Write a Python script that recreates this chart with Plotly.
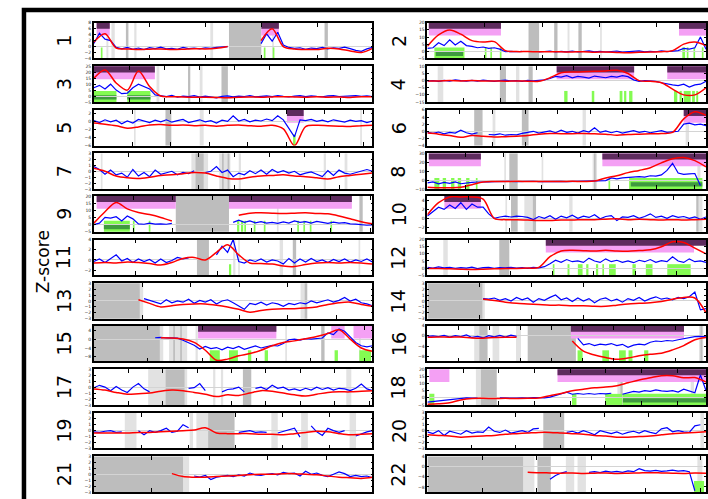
import plotly.graph_objects as go

# ---------------- data (x in percent of each chromosome panel) ----------------
chrom_len = [249, 243, 198, 191, 181, 171, 159, 146, 141, 136, 135, 134,
             115, 107, 103, 90, 81, 78, 59, 63, 48, 51]
x_tick_step = [50, 50, 25, 25, 25, 20, 20, 20, 20, 20, 20, 20,
               20, 20, 20, 10, 10, 10, 10, 10, 10, 10]
y_lims = [(-4, 8), (-5, 20), (-5, 25), (-15, 10), (-6, 3), (-4, 6), (-3, 3), (-10, 30),
          (-5, 20), (-3, 5), (-3, 4), (-5, 20), (-3, 3), (-3, 3), (-10, 6), (-10, 4),
          (-3, 3), (-5, 20), (-3, 3), (-3, 3), (-3, 3), (-10, 4)]
y_steps = [2, 5, 5, 5, 2, 2, 1, 10, 5, 2, 2, 5, 1, 1, 4, 4, 1, 5, 1, 1, 1, 4]

N = None
blue_1 = [1.0, 4.5, 2.5, 2.0, -0.3, -0.8, -0.3, -0.9, -0.5, -1.0, -0.4, -0.7, -0.2, -0.8, -0.6, -0.9, -0.3,
          -0.7, -0.5, -0.8, -0.4, -0.6, -0.3, -0.2, 0.0, N, N, N, N, N, 1.0, 4.3, 1.8, 4.8, 0.5, -0.3,
          -0.6, -0.4, -0.9, -0.5, -0.7, -0.3, -0.8, -0.4, -0.6, -0.2, -0.7, -1.3, -1.6, -0.8, -0.3]
red_1 = [1.5, 4.3, -0.5, -0.8, -1.0, -0.9, -0.8, -1.0, -0.9, -0.7, -0.8, -0.6, 0.0, N, N, 2.0, 6.0, 0.0,
         -0.8, -1.0, -1.0, -0.6, -0.8, -1.5, -2.0, -0.6]
blue_2 = [2, 2.5, 6, 4, 8, 4.5, 7, 4, 3.5, 2.5, 3, 2, 2.5, 1.5, -0.3, 0, -0.3, 0, N, N,
          -0.5, -0.2, 0.2, -0.5, 0, -0.4, 0.2, -0.5, -0.2, 0.3, -0.4, 0, -0.5, -0.2, 0.2, -0.6, -0.3,
          -0.5, 0.3, -0.4, 0, -0.3, 0.3, -0.2, 0.4, 0.5, 2, 1.5, 2.5, 10, 1.5]
red_2 = [3.5, 11.5, 15, 12, 7.5, 6.5, 6.8, 0.5, -0.2, -0.2, -0.4, -0.3, -0.4, -0.5, -0.3, -0.6, -0.5,
         -0.8, -1.0, -0.7, -0.5, -0.3, 0.5, 5.0, 6.5, 4.0]
blue_3 = [7, 9, 6, 10, 5, 2, 2.5, 7, 10, 8, 6, 1, 0,
          -0.5, 0.5, -1, 0, -0.5, 0.3, -0.8, 0, -0.5, -1.5, -0.3, 0.2, -0.6, 0, -0.4, 0.3, -0.7, -0.2, 0.2,
          -0.5, 0.4, -0.3, -0.8, 0, 0.3, -0.5, 0.2, -0.3, -0.6, 0.1, 0.3, -0.4, 0, -0.2, 0.4, -0.3, 0.1, -0.5]
red_3 = [15, 22, 11, 5, 21, 8, 0, -0.5, -0.8, -1, -1, -1.2, -1.5, -1, -0.8, -1, -0.7, -0.5, -0.8, -1.0,
         -0.6, -1, -0.8, -1.2, -0.6, -0.5]
blue_4 = [-0.3, 0, -0.5, 0.2, -0.3, 0.5, 0, -0.4, 0.2, -0.3, 0.3, 0, -0.5, 0, 0.3, -0.2, 0, -0.5, 0.2, -0.2, 0,
          0.5, 1.5, 3.0, 2.5, 3.5, 2.0, 3.0, 2.5, 1.8, 3.2, 2.5, 2, 3, 2.5, 3.5, 2.8, 0.5, -0.5, 0, -0.3,
          -0.5, -1.5, -2.5, -3.0, -3.5, -2.5, -4.5, -3, -2.5, -0.5]
red_4 = [-0.3, -0.3, 0, -0.2, 0, -0.3, -0.2, -0.4, -0.3, -0.4, -0.5, 2, 5.5, 6, 6.2, 6.5, 6.8, 7.2, 5, 0,
         -0.5, -1.5, -6, -10, -10, -5]
blue_5 = [0.3, -0.2, 0.5, 0.0, 0.4, -0.5, 0.2, -0.3, 0.6, 0.1, -0.2, 0.4, 0.0, 0.5, -0.1, 0.3, 0.6, -0.2,
          0.2, 0.5, 0.0, 0.3, -0.3, 0.4, 0.1, 1.5, 0.2, 0.6, 0.0, 0.4, 0.2, 0.7, 0.3, 1.5, 0.5,
          -1.5, -3.8, 0.5, 0.3, 0.6, 0.1, 0.4, 0.0, 0.5, 0.2, -0.1, 0.4, 0.1, 0.3, -0.2, 0.2]
red_5 = [-0.3, -0.6, -1.0, -1.6, -1.3, -0.8, -0.7, -0.9, -0.8, -1.0, -0.9, -1.1, -0.9, -0.8, -1.0, -1.1,
         -0.9, -1.8, -6.0, -1.2, -0.9, -1.0, -1.1, -1.2, -1.0, -0.9]
blue_6 = [-0.3, -0.6, -0.2, -0.7, -0.3, -0.5, 0.3, -0.4, -0.8, -0.4, N, -0.9, -1.0, -0.7, -1.1, -0.9, -1.0,
          -0.6, -0.3, 0.0, -0.5, -0.2, 0.1, -0.4, 0.3, -0.3, 0.0, -0.5, 0.2, -0.2, 1.0, -0.3, 0.1, -0.4,
          0.0, -0.5, -0.1, 0.2, -0.3, 0.0, -0.4, -0.1, 0.2, -0.3, -0.2, 0.0, 2.0, 2.3, 1.8, 2.0, 1.6]
red_6 = [-0.5, -0.8, -1.2, -1.7, -1.2, -1.4, -1.6, -1.5, -1.4, -1.2, -0.8, -0.6, -0.7, -0.7, -0.6, -0.7,
         -0.8, -1.1, -0.9, -0.8, -0.7, -0.6, -0.3, 3.5, 5.5, 4.5]
blue_7 = [0.8, 0.3, -0.5, 0.2, -0.6, -0.3, -1.0, 0.3, -0.8, -0.2, -0.9, 0.2, -0.5, -0.3, 0, -0.6, -0.2,
          -0.4, 0.1, N, -0.2, 0.0, 0.8, -0.2, 0.2, -0.9, -0.3, -0.6, 0.1, -0.4, 0.2, -0.5, 0.3, -0.2,
          0.1, -0.3, 0, -0.6, -0.3, -0.1, -0.5, -0.9, 0.1, -0.7, 0.2, -0.3, -0.5, -0.2, 0, 0.3, 0]
red_7 = [0.5, 0, -0.8, -1.1, -1.2, -1.0, -0.7, -0.6, -0.4, -0.2, -0.3, -0.8, -1.2, -1.3, -1.0, -0.8,
         -0.7, -0.6, -0.8, -0.9, -1.1, -1.3, -0.9, -0.7, -0.5, -0.3]
blue_8 = [-3, -2, -4, -2.5, -3.5, -2, -4, -3, -2.5, -2, -1.5, -1.8, -1.5, -1.2, -1.6, -1.4, -1.7, -1.3,
          -1.5, -1.2, -1.6, -1.4, -1.2, -1.5, -1.3, -1.6, -1.4, -1.0, -1.3, -0.8, -1.0,
          0, -0.5, 2.5, 1.5, 2.5, 3, 3.5, 4, 3.5, 5, 4.5, 6, 11, 19, 8, 6.5, 7, 7.5, -6, N]
red_8 = [-8, -8.5, -8.5, -8, -5, -2, -1.5, -1.5, -1.3, -1.5, -1.4, -1.5, -1.5, -1.3, -1.4, -1.0, 2.5, 5,
         8.5, 11, 14, 19.5, 24, 25.5, 22, 15]
blue_9 = [0, 1, 5, 4.5, 5.5, 2.5, 6, 4, 0.5, 0.2, 1, 0.3, 0.5, 0.2, 0.8, N, N, N, N, N, N, N, N, N, N,
          1.5, 3, 1.5, 2.5, 1.2, 2, 1, 1.5, 0.8, 1.8, 1, 2.5, 1.5, 2, 1, 2.2, 1.5, 0.8, 1.7, 1, 1.3,
          0.5, 0.3, 0, -0.5, -0.2]
red_9 = [1, 9, 15.5, 11, 8.5, 7, 5, 2.5, N, N, N, N, N, 6.5, 8, 8.3, 8, 7.8, 8, 8.2, 7.8, 7.5, 6, 4, 2, 0.5]
blue_10 = [0.5, 1.5, 2.5, 2.0, 3.0, 2.2, 3.5, 2.0, 3.2, 2.5, 2.5, 1.0, 0.0, 0.3, 0.5, 0.3, 0.5, 0.4, 0.2,
           -0.3, 0.4, 0.0, 0.6, -0.2, 0.5, 0.1, 0.7, 0.0, 0.5, 0.2, 0.8, -0.1, 0.4, 0.6, -0.5, 0.3, 0.2,
           0.6, 0.0, 0.4, 1.0, 0.2, 0.5, 0.0, 0.6, 0.2, 0.4, 0.0, 0.3, -0.2, 0.3]
red_10 = [0.8, 3.5, 4.8, 4.8, 4.8, 4.3, 0.0, -0.3, -0.3, -0.4, -0.5, -0.5, -0.4, -0.4, -0.3, -0.3, -0.2,
          -0.1, -0.3, -0.2, -0.3, -0.4, -0.3, -0.4, -0.3, -0.2]
blue_11 = [-0.3, 0.2, -0.5, 0.3, 1.0, -0.2, 0.3, -0.5, 0.2, -0.3, 0.1, -0.6, 0.2, -0.5, -0.1, 0.5, 0.2,
           0.4, N, N, N, N, 1.0, 2.7, 1.5, 4.0, -0.3, -0.6, 0.0, -0.3, 0.2, -0.4, 0.0, -0.2, -0.8, 0.3,
           -0.6, 0.2, -0.4, 0.3, -0.3, 0.0, -0.5, 0.1, -0.3, 0.2, -0.4, 0.0, -0.3, 0.2, -0.4]
red_11 = [-0.6, -0.5, -0.6, -0.4, -0.5, -0.7, -1.0, -0.5, 0.3, 0.5, 0.0, 1.5, 3.0, 1.0, -0.6, -0.7, -0.8,
          -1.2, -1.3, -0.9, -0.6, -0.5, -0.6, -0.5, -0.6, -0.8]
blue_12 = [0.5, 0, 0.8, 0.2, 0.6, -0.2, 0.4, 0, 0.7, -0.3, 0.3, 0.5, -0.2, 0.4, 0.1, 0.6, 0, 0.3, -0.2,
           0.5, 0.2, 1, 3, 5.5, 4, 6, 4.5, 5, 4, 7, 5, 4, 6.5, 4.5, 5.5, 4, 5, 3.8, 5.5, 4.5, 6, 4, 5.2,
           4.5, 8, 5, 4, 6.5, 4.5, 5, 4]
red_12 = [-0.3, -0.2, -0.5, -0.8, -1.0, -0.8, -0.5, -0.3, -0.2, 0, 0.5, 8, 12, 12.5, 12.2, 12.0, 12.5,
          12.0, 11.8, 12.3, 12.8, 15, 18.5, 18, 14, 10]
blue_13 = [N, N, N, N, N, N, N, N, N, 0.4, 0.1, -0.3, -0.5, 0.2, -0.3, 0.0, -0.2, 0.3, -0.4, 0.1, -0.2,
           0.2, -0.5, 0.0, 0.2, -0.3, -0.8, -1.4, -0.4, -0.6, -0.2, -0.7, -0.3, -0.5, -0.9, -0.4, -0.6,
           -0.3, -0.5, 0.0, -0.3, -0.1, 0.2, -0.2, 0.1, 0.6, 0.0, 0.3, -0.3, -0.5, -0.8]
red_13 = [N, N, N, N, 0.2, -0.4, -1.0, -0.8, -0.6, -0.5, -0.5, -0.7, -1.0, -1.4, -1.9, -1.6, -1.4, -1.3,
          -1.3, -1.2, -1.0, -0.6, -0.3, -0.2, -0.6, -0.9]
blue_14 = [N, N, N, N, N, N, N, N, N, N, 0.4, 0.3, 0.5, 0.1, 0.4, 0.0, 0.6, 0.2, 0.5, -0.2, 0.4, 0.1,
           0.6, 1.0, 0.2, 0.5, -0.1, 0.5, 0.0, 0.4, -0.3, 0.3, 0.5, 0.0, 0.3, -0.2, 0.4, 0.1, 0.6, 0.0,
           0.4, 0.7, 0.3, 0.5, 0.2, 0.6, 0.4, 0.7, 1.5, -1.5, -1.3]
red_14 = [N, N, N, N, N, 0.3, 0.1, -0.2, -0.4, -0.5, -0.6, -0.7, -0.7, -0.8, -0.8, -0.9, -0.9, -0.7,
          -0.5, -0.4, -0.3, -0.1, 0.3, 0.6, 0.5, -2.0]
blue_15 = [N, N, N, N, N, N, N, N, N, N, N, 0.6, 0.8, 0.5, 0.6, 0.4, -0.5, -1.5, -2.8, -4.5, -3.3, -4.3,
           -3.8, -4.8, -3.6, -4.3, -3.3, -4.6, -3.8, -3.1, -4.0, -3.3, -2.8, -3.1, -2.0,
           -0.3, 0.0, -0.5, 0.2, 0.0, 0.4, 0.5, 2.8, 2.0, 4.5, 3.5, 1.0, -1.5, -3.0, -3.5, -3.0]
red_15 = [N, N, N, N, N, N, 0.6, 0.5, 0.0, -1.5, -5, -9.5, -9, -7.5, -6.5, -5, -3, -1.5, -0.8, 0.2, 1.2,
          2.5, 4.2, 0, -4, -5.5]
blue_16 = [-0.2, 0.0, -0.3, 0.2, -0.5, 0.1, -0.3, 0.4, -0.6, -0.2, -0.8, 0.1, -0.4, 0.2, -0.5, 0.3, -0.2,
           N, N, N, N, N, N, N, N, N, N, -1.0, -3.5, -3.0, -3.8, -3.2, -3.5, -3.0, -3.8, -3.3, -4.5,
           -3.6, -3.2, -3.5, -2.5, -2.0, -2.2, -1.8, -2.0, -1.5, -1.0, -0.5, -0.3, -0.2, -0.4]
red_16 = [-0.5, -0.4, -0.5, -0.4, -0.8, -0.9, -0.6, -0.5, -0.5, N, N, N, N, -2.0, -6.0, -7.5, -8.5, -9.2,
          -8.7, -7.8, -7.2, -6.8, -5.5, -3.8, -1.5, -0.6]
blue_17 = [-0.1, 0.3, 0.0, -0.6, 0.1, -0.5, -0.9, 0.0, 0.6, -0.3, -0.8, N, N, N, N, N, N, -0.2, -0.1,
           0.6, -0.6, N, N, -0.8, -0.4, -0.3, 0.0, -0.8, N, -0.2, 0.0, -0.4, 0.3, -0.2, 0.0, -0.5, -0.3,
           -0.6, -0.2, -0.5, 0.0, -0.4, -0.1, -0.5, -0.2, -0.3, -0.6, -0.2, 0.5, -0.3, -0.6]
red_17 = [-0.3, -0.5, -0.9, -1.2, -1.1, -1.0, -0.7, -0.5, -0.6, -0.9, -1.2, -1.6, -1.3, -1.4, -1.0, -0.6,
          -0.7, -1.0, -1.3, -1.5, -1.2, -0.9, -0.8, -0.8, -0.7, -0.6]
blue_18 = [-3, -2.5, -2, -1.5, -1, -0.8, -0.3, 0, -0.2, -0.3, N, N, N, 0, -0.2, 0.1, -0.3, 0, -0.2, 0.2,
           -0.1, 0, 0.5, 1.5, 2.5, 4.0, 2.5, 3.0, 2.5, 3.0, 2.5, 3.0, 2.8, 3.2, N, 2.5, 3.5, 4.5, 4.0,
           5.0, 4.5, 5.5, 4.8, 4.5, 5.0, 4.0, 6.0, 4.5, 3.5, 16, 5]
red_18 = [-4.5, -4.2, -3.5, -1.5, -0.5, -0.4, -0.5, -0.4, -0.5, -0.4, -0.2, 1.5, 3, 5, 6, 7, 7.5, 8.5,
          10.5, 12.5, 14, 15.5, 15.5, 14, 14.2, 11]
blue_19 = [-0.2, -0.3, -0.1, 0.0, -0.3, -0.2, N, N, 0.0, -0.7, 0.0, -0.3, 0.0, 0.4, -0.3, -0.1, 1.0, 0.5,
           N, N, N, N, N, N, N, N, -0.3, -0.2, 0.0, -0.3, -0.2, -0.3, N, -0.4, -0.1, 0.2, 0.4, -1.1, N,
           0.8, -0.2, -0.8, 0.4, 0.0, -0.3, 0.0, N, -0.9, -0.5, -0.2, 0.0]
red_19 = [-0.4, -0.4, -0.4, -0.4, -0.3, -0.3, -0.2, -0.1, 0.0, 0.1, 0.5, -0.4, -0.5, -0.5, -0.5, -0.6,
          -0.6, -0.7, -0.5, -0.3, -0.1, -0.2, -0.5, -0.7, -0.6, -0.5]
blue_20 = [-0.2, -0.5, 0.0, -0.8, -0.1, -0.3, -0.6, 0.0, -0.4, -0.2, -0.3, 0.6, -0.1, -0.3, 0.1, -0.4,
           -0.2, 0.0, -0.3, 0.3, 0.4, N, N, N, N, -0.3, -0.1, -0.4, 0.0, -0.3, -0.7, 0.0, -0.3, -0.5,
           -0.2, -0.6, -0.3, -0.1, -0.4, 0.0, -0.3, -0.5, 0.3, 0.5, -0.2, 0.0, -0.2, -0.3, 0.8, 1.0, N]
red_20 = [-0.7, -0.8, -0.9, -1.1, -1.0, -0.9, -0.8, -0.6, -0.5, -0.4, -0.3, -0.3, -0.4, -0.5, -0.6, -0.8,
          -0.9, -1.1, -1.1, -1.0, -0.9, -0.7, -0.5, -0.4, -0.3, -0.2]
blue_21 = [N, N, N, N, N, N, N, N, N, N, N, N, N, N, N, N, N, N, -0.3, -0.5, -0.2, -0.9, -0.5, -0.3,
           -0.2, -0.4, -0.1, -0.3, 0.2, -0.1, -0.2, 0.0, 0.1, -0.1, 0.3, 0.1, 0.2, -0.3, 0.5, 0.0, 0.2,
           -0.2, -0.4, 0.0, 0.4, 0.1, -0.4, -0.2, -0.4, -0.3, -0.6]
red_21 = [N, N, N, N, N, N, N, 0.1, -0.4, -0.5, -0.5, -0.4, -0.3, -0.2, -0.1, 0.0, 0.0, 0.1, 0.1, 0.0,
          -0.1, -0.3, -0.5, -0.6, -0.7, -0.5]
blue_22 = [N, N, N, N, N, N, N, N, N, N, N, N, N, N, N, N, N, N, N, N, N, N, -5, -3.5, -2.5, -2.0, N, N,
           N, -2.3, -2.0, -2.4, -1.8, -2.2, -1.9, -2.3, -1.7, -2.0, -0.8, -1.6, -1.8, -1.5, -1.9, -1.7,
           -1.4, -1.8, -1.6, -2.0, -9.5, N, N]
red_22 = [N, N, N, N, N, N, N, N, N, -2.2, -2.4, -2.5, -2.6, -2.5, -2.7, -2.6, -2.5, -2.7, -2.6, -2.5,
          -2.4, -2.5, -2.6, -2.7, -2.5, -2.6]

# annotation tracks: (start%, end%)
gray_dark = {
    1: [(11.5, 12.4), (48.5, 60.1), (82.8, 84)], 2: [(36.3, 40.1), (45.5, 46.7), (54.2, 55.4)],
    3: [(33.8, 34.6), (45.8, 48.1)], 4: [(26, 28.2), (36.3, 37.8)], 5: [(25.7, 27.8)],
    6: [(16.8, 19.8), (33.9, 36.3)], 7: [(36.5, 39.4), (46, 46.6), (48, 48.6)],
    8: [(29.4, 32.4), (59.8, 60.4)], 9: [(29.4, 48.5), (95.3, 96.5)],
    10: [(30, 32.4), (37.8, 39), (96.5, 97.3)], 11: [(37, 41.3), (71.4, 72.6)], 12: [(25.8, 29.4)],
    13: [(0, 16.5), (75.6, 76.6)], 14: [(0, 19.8)], 15: [(0, 23.7), (28.5, 29.1), (31, 31.6), (81.6, 82.8)],
    16: [(18.6, 21.6), (36, 53.3), (98, 98.7)], 17: [(25.7, 32.6), (53.5, 56.5)],
    18: [(19.2, 24.9), (69.3, 70)], 19: [(41, 50.5)], 20: [(41.6, 49.1)], 21: [(0, 32)],
    22: [(0, 34.4), (39.5, 44.3)]}
gray_light = {
    1: [(4.5, 5.2), (6.3, 7.5), (14.5, 15.3), (41.8, 42.8), (64, 64.6)], 2: [(50.3, 51), (62, 62.6)],
    3: [(22.5, 23.5), (38, 39)], 4: [(3.7, 5.7), (31.8, 33)], 5: [(14.4, 15), (38, 39.4), (95.6, 96.2)],
    6: [(23.4, 24.4), (55.7, 56.9), (92.7, 93.9)],
    7: [(2.5, 3.1), (35, 41), (45, 49), (52, 52.8), (82.5, 83.3), (90, 91)],
    8: [(27.6, 28.2), (41, 41.6), (59.3, 60.9), (96.9, 98)], 9: [(65.7, 66.3)],
    10: [(28, 28.6), (34.8, 37.8), (50.9, 52.1), (96.9, 98.7)],
    11: [(50, 50.8), (51.8, 52.4), (66.7, 67.9), (95, 95.6)], 12: [(5.7, 7.3)],
    13: [(16.5, 17.7), (74.2, 75.6)], 14: [(19.8, 20.6)],
    15: [(23.7, 24.9), (27, 33.5), (36.5, 37.3), (68.7, 69.3), (95.2, 95.8)],
    16: [(16.8, 18.6), (23.4, 25.8), (31.8, 33.6), (97.5, 99)],
    17: [(19.5, 25.7), (32.6, 33.5), (42.8, 43.6), (45.6, 46.4), (90.6, 92.4)],
    18: [(17.4, 19.2), (68.2, 70.2), (94.5, 95.7)],
    19: [(11.1, 15.3), (34.4, 35.6), (36.8, 41), (63.7, 66), (74.4, 76.8), (91.8, 94.1)],
    20: [(98, 99.3)], 21: [(32, 34.2)], 22: [(34.4, 38.4), (49.7, 52.7), (53.9, 56.9), (96.9, 98.7)]}
pink = {
    1: [(1, 5.7), (60.1, 66.4)], 2: [(0.5, 26.4), (90.3, 100)], 3: [(0, 21.9)],
    4: [(46.4, 74.2), (86.1, 100)], 5: [(69.3, 75.3)], 6: [(92, 100)], 8: [(0.5, 19.2), (62.8, 100)],
    9: [(1, 29.4), (48.5, 92.6)], 10: [(6.1, 19.2)], 12: [(42.5, 95.7)],
    15: [(37.4, 65.5), (85.2, 90), (93.2, 100)], 16: [(51.5, 92.1)], 18: [(0.7, 7.9), (46.7, 100)]}
purple = {
    1: [(1, 5.7), (60.1, 66.4)], 2: [(0.5, 26.4), (90.3, 100)], 3: [(0, 21.9)],
    4: [(46.4, 74.2), (86.1, 100)], 5: [(69.3, 75.3)], 6: [(92, 100)], 8: [(0.5, 19.2), (62.8, 100)],
    9: [(1, 29.4), (48.5, 92.6)], 10: [(6.1, 19.2)], 12: [(42.5, 100)], 15: [(37.4, 65.5)],
    16: [(51.5, 92.1)], 18: [(46.7, 100)]}
green = {
    1: [(2.5, 3.1), (61, 61.6), (64.2, 64.8)],
    2: [(2.5, 13.3), (20.6, 21.2), (22.6, 23.2), (26, 26.6), (91.5, 92.5), (93.1, 93.7), (95.5, 96.1), (98.5, 99.1)],
    3: [(0, 8.1), (12, 20.3)],
    4: [(49.1, 50.3), (59, 59.9), (69, 70), (70.6, 71.4), (72.4, 73.6), (88.5, 89.7), (90.5, 91.3), (92, 94.5),
        (95, 96), (96.5, 97.2)],
    5: [(71.5, 72.4)],
    8: [(2.5, 4.3), (5.5, 6.7), (8.5, 9.7), (10.9, 12.1), (13.9, 15.1), (17.4, 18), (65, 65.6), (72.4, 98.7)],
    9: [(3.6, 12.9), (14, 14.6), (19.7, 20.3), (51.4, 52.2), (52.8, 53.6), (54, 54.6), (57.4, 58), (61, 61.6),
        (73, 73.6), (75.2, 75.8), (77.5, 78.1), (84.9, 85.5)],
    11: [(48.5, 49.3)],
    12: [(45, 45.6), (50.3, 51), (54, 55.7), (57, 57.8), (60.5, 61.3), (62.8, 63.4), (65.2, 67.6), (73.6, 74.8),
         (78.4, 80.8), (86.1, 94.5)],
    15: [(41.6, 45.2), (48.5, 51.7), (55.3, 56.5), (61.3, 62.5), (86.4, 87.6), (95.3, 99.5)],
    16: [(53.9, 55.7), (62.8, 65.2), (68.8, 71.2), (72.2, 73.6), (77.8, 79.3)],
    18: [(0.7, 2.5), (51.9, 53.5), (63.8, 70), (70.2, 100)], 22: [(95.7, 99.3)]}
dark_green = {2: [(3, 12.8)], 3: [(0, 8.1), (12, 20.3)], 8: [(73, 98.7)], 9: [(3.6, 12.9)], 18: [(70.2, 100)]}

blues = [blue_1, blue_2, blue_3, blue_4, blue_5, blue_6, blue_7, blue_8, blue_9, blue_10, blue_11,
         blue_12, blue_13, blue_14, blue_15, blue_16, blue_17, blue_18, blue_19, blue_20, blue_21, blue_22]
reds = [red_1, red_2, red_3, red_4, red_5, red_6, red_7, red_8, red_9, red_10, red_11,
        red_12, red_13, red_14, red_15, red_16, red_17, red_18, red_19, red_20, red_21, red_22]

# ---------------- layout ----------------
W, H = 708, 499
COL_X = [94, 428]
PW, PH = 279, 36
ROW_TOPS = [21, 65, 109, 153, 196, 240, 284, 327, 371, 415, 459]
C_DGRAY, C_LGRAY = '#bdbdbd', '#e2e2e2'
C_PURPLE, C_PINK = '#5e2b5e', '#f4a0f4'
C_GREEN, C_DGREEN = '#84fb52', '#3f9a3f'
FONT = 'DejaVu Sans'

fig = go.Figure()
shapes = []
annotations = []

def xs(n):
    return [i * 100.0 / (n - 1) for i in range(n)]

for k in range(1, 23):
    i = k - 1
    col, row = i % 2, i // 2
    x0 = COL_X[col]
    top = ROW_TOPS[row]
    sfx = '' if k == 1 else str(k)
    L, step = chrom_len[i], x_tick_step[i]
    tv = [m * step * 100.0 / L for m in range(0, int(L // step) + 1)]
    fig.update_layout(**{
        'xaxis' + sfx: dict(domain=[x0 / W, (x0 + PW) / W], range=[0, 100], anchor='y' + sfx,
                            showgrid=False, zeroline=False, showline=True, linecolor='black',
                            linewidth=1.6, mirror='allticks', ticks='inside', ticklen=4,
                            tickwidth=1, tickcolor='black', tickvals=tv, showticklabels=False),
        'yaxis' + sfx: dict(domain=[1 - (top + PH) / H, 1 - top / H], range=list(y_lims[i]),
                            anchor='x' + sfx, showgrid=False, zeroline=True, zerolinecolor='#d4d4d4',
                            zerolinewidth=1, showline=True, linecolor='black', linewidth=1.6,
                            mirror='allticks', ticks='inside', ticklen=2, tickwidth=0.8,
                            tickcolor='black', tick0=0, dtick=y_steps[i],
                            tickfont=dict(size=4.5, color='#222', family=FONT)),
    })
    xr, yr = 'x' + sfx, 'y' + sfx + ' domain'

    def band(lst, color, y0, y1):
        for a, b in lst:
            shapes.append(dict(type='rect', xref=xr, yref=yr, x0=a, x1=b, y0=y0, y1=y1,
                               fillcolor=color, line=dict(width=0), layer='below'))
    band(gray_light.get(k, []), C_LGRAY, 0, 1)
    band(gray_dark.get(k, []), C_DGRAY, 0, 1)
    band(pink.get(k, []), C_PINK, 0.64, 1)
    band(purple.get(k, []), C_PURPLE, 0.83, 1)
    band(green.get(k, []), C_GREEN, 0, 0.31)
    band(dark_green.get(k, []), C_DGREEN, 0.07, 0.19)

    b, r = blues[i], reds[i]
    fig.add_trace(go.Scatter(x=xs(len(b)), y=b, xaxis='x' + sfx, yaxis='y' + sfx, mode='lines',
                             line=dict(color='#0000ff', width=1.2), connectgaps=False,
                             showlegend=False, hoverinfo='skip'))
    fig.add_trace(go.Scatter(x=xs(len(r)), y=r, xaxis='x' + sfx, yaxis='y' + sfx, mode='lines',
                             line=dict(color='#ff0000', width=1.5, shape='spline', smoothing=0.9),
                             connectgaps=False, showlegend=False, hoverinfo='skip'))

    lx = [64, 399][col]
    annotations.append(dict(text=str(k), xref='paper', yref='paper', x=lx / W, y=1 - (top + PH / 2) / H,
                            showarrow=False, textangle=-90, xanchor='center', yanchor='middle',
                            font=dict(size=19, color='black', family=FONT)))

annotations.append(dict(text='Z-score', xref='paper', yref='paper', x=43 / W, y=1 - 262 / H,
                        showarrow=False, textangle=-90, xanchor='center', yanchor='middle',
                        font=dict(size=17, color='black', family=FONT)))

# outer figure frame
shapes.append(dict(type='rect', xref='paper', yref='paper', x0=24 / W, x1=1.05, y0=-0.05, y1=1 - 8 / H,
                   line=dict(color='black', width=4.5), fillcolor='rgba(0,0,0,0)', layer='above'))

fig.update_layout(width=W, height=H, margin=dict(l=0, r=0, t=0, b=0), paper_bgcolor='white',
                  plot_bgcolor='white', shapes=shapes, annotations=annotations, showlegend=False)

fig.write_html("out.html", config={'displayModeBar': False},
               post_script="document.body.style.margin='0px';")
